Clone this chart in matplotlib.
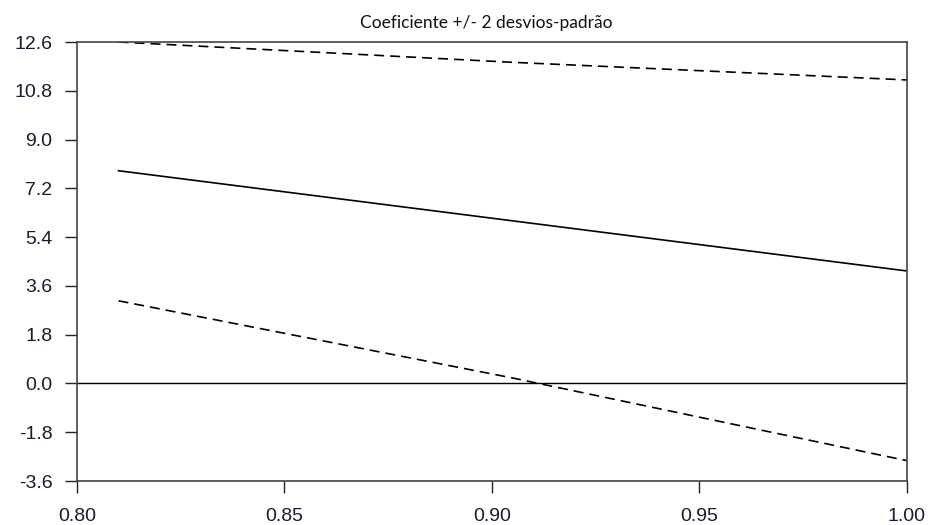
"""
Coeficiente recursivo +/- 2 desvios-padrão
"""

import matplotlib.pyplot as plt
import numpy as np

# dados
x = [0.81, 0.905, 1.00]
coef = [7.85, 6.0, 4.15]
sup = [12.6, 11.85, 11.2]
inf = [3.05, 0.2, -2.85]

yticks = [-3.6, -1.8, 0.0, 1.8, 3.6, 5.4, 7.2, 9.0, 10.8, 12.6]
xticks = [0.80, 0.85, 0.90, 0.95, 1.00]

plt.rcParams['font.family'] = ['Liberation Sans', 'DejaVu Sans']

fig = plt.figure(figsize=(9.29, 5.25), dpi=100)
ax = fig.add_axes([77 / 929, 1 - 481 / 525, 830 / 929, 439 / 525])

ax.axhline(0, color='black', linewidth=1.0)
ax.plot(x, coef, color='black', linewidth=1.2)
ax.plot(x, sup, color='black', linewidth=1.2, linestyle=(0, (6, 3.6)))
ax.plot(x, inf, color='black', linewidth=1.2, linestyle=(0, (6, 3.6)))

ax.set_xlim(0.80, 1.00)
ax.set_ylim(-3.6, 12.6)
ax.set_xticks(xticks)
ax.set_xticklabels([f'{v:.2f}' for v in xticks])
ax.set_yticks(yticks)
ax.set_yticklabels([f'{v:.1f}' for v in yticks])

for s in ax.spines.values():
    s.set_color('#444444')
    s.set_linewidth(1.2)

ax.tick_params(axis='both', direction='out', length=8.6, width=1.0,
               color='#222222', labelsize=14, labelcolor='#1a1a30')
ax.tick_params(axis='y', pad=9)
ax.tick_params(axis='x', pad=11)

# titulo um pouco à esquerda do centro, como no original
fig.text(486 / 929, 1 - 23 / 525, 'Coeficiente +/- 2 desvios-padrão',
         fontsize=12.5, family=['Lato', 'DejaVu Sans'],
         ha='center', va='center', color='#111111')

fig.savefig('out.png', dpi=100)
